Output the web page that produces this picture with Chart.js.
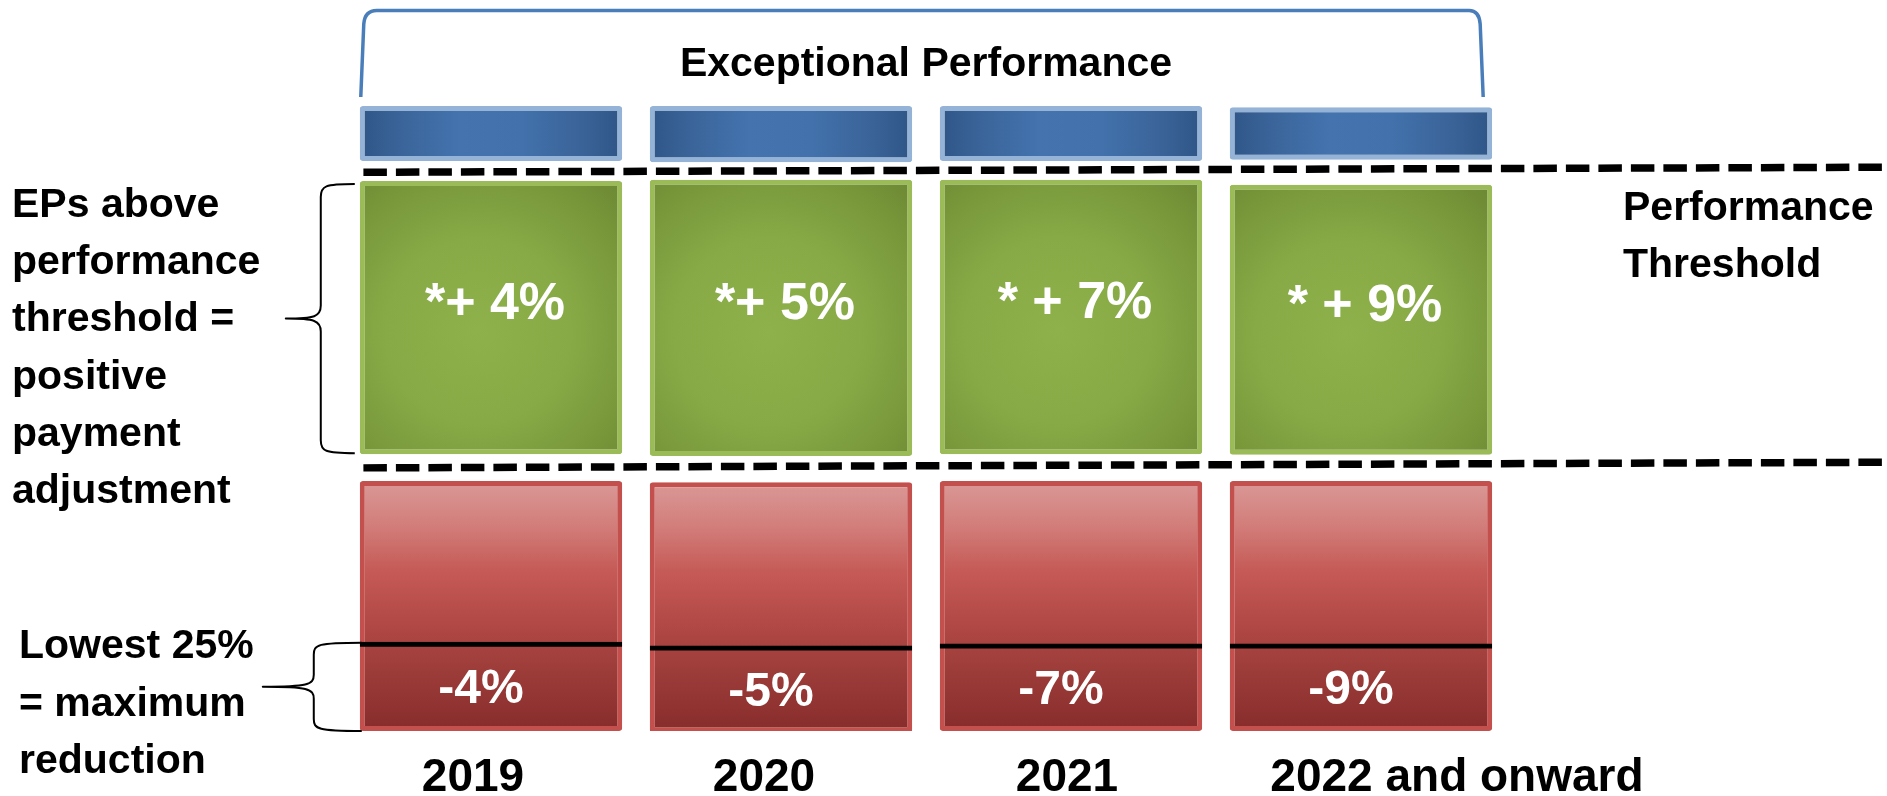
<!DOCTYPE html>
<html>
<head>
<meta charset="utf-8">
<script src="https://cdn.jsdelivr.net/npm/chart.js@4.4.1/dist/chart.umd.min.js"></script>
<style>
  html, body { margin: 0; padding: 0; background: #ffffff; }
  #wrap { width: 1887px; height: 796px; position: relative; }
</style>
</head>
<body>
<div id="wrap"><canvas id="c"></canvas></div>
<script>
// ---------------- data ----------------
const categories = ['2019', '2020', '2021', '2022 and onward'];
const categoryPositions = [0, 1, 2, 3];
const positiveLabels = ['*+ 4%', '*+ 5%', '* + 7%', '* + 9%'];
const reductionLabels = ['-4%', '-5%', '-7%', '-9%'];
// schematic vertical scale: 0 = bottom of the lowest box, 100 = top of the exceptional bar
const exceptionalLow  = [91.2, 91.0, 91.2, 91.4];
const exceptionalHigh = [100.0, 100.0, 100.0, 99.8];
const aboveLow  = [44.3, 44.0, 44.3, 44.2];
const aboveHigh = [88.0, 88.2, 88.2, 87.4];
const belowLow  = [0, -0.2, 0, 0];
const belowHigh = [40.0, 39.8, 40.0, 40.0];
const lowest25High = [14.3, 13.7, 14.0, 14.0];
// dashed threshold lines: level at left end and at right end
const exceptionalThreshold = [89.4, 90.2];
const performanceThreshold = [42.1, 43.0];
const lineExtent = [-0.44, 4.814];

// ---------------- helpers ----------------
const BAR_RATIO = 0.905;
const FONT = '"Liberation Sans", Arial, sans-serif';

function barGeom(chart, i) {
  const xs = chart.scales.x;
  const c = xs.getPixelForValue(categoryPositions[i]);
  const step = xs.getPixelForValue(1) - xs.getPixelForValue(0);
  const half = step * BAR_RATIO / 2;
  return { left: c - half, right: c + half, center: c };
}

function ready(ctx) {
  const ch = ctx.chart;
  return ctx.type === 'data' && ch.chartArea && ch.scales.x && ch.scales.y;
}

function blueFill(ctx) {
  if (!ready(ctx)) return '#4171AB';
  const g0 = barGeom(ctx.chart, ctx.dataIndex);
  const g = ctx.chart.ctx.createLinearGradient(g0.left, 0, g0.right, 0);
  g.addColorStop(0, '#2F5586');
  g.addColorStop(0.15, '#3A6499');
  g.addColorStop(0.38, '#4473AE');
  g.addColorStop(0.62, '#4271AB');
  g.addColorStop(0.85, '#3A6398');
  g.addColorStop(1, '#2F5586');
  return g;
}

function greenFill(ctx) {
  if (!ready(ctx)) return '#83A544';
  const ch = ctx.chart;
  const g0 = barGeom(ch, ctx.dataIndex);
  const ys = ch.scales.y;
  const top = ys.getPixelForValue(aboveHigh[ctx.dataIndex]);
  const bot = ys.getPixelForValue(aboveLow[ctx.dataIndex]);
  const cx = g0.left + (g0.right - g0.left) * 0.45;
  const cy = top + (bot - top) * 0.55;
  const r = (bot - top) * 0.75;
  const g = ch.ctx.createRadialGradient(cx, cy, 0, cx, cy, r);
  g.addColorStop(0, '#8EB14B');
  g.addColorStop(0.45, '#87AA46');
  g.addColorStop(0.8, '#779639');
  g.addColorStop(1, '#6C8834');
  return g;
}

function redFill(ctx) {
  if (!ready(ctx)) return '#C0504D';
  const ch = ctx.chart;
  const ys = ch.scales.y;
  const top = ys.getPixelForValue(belowHigh[ctx.dataIndex]);
  const bot = ys.getPixelForValue(belowLow[ctx.dataIndex]);
  const g = ch.ctx.createLinearGradient(0, top, 0, bot);
  g.addColorStop(0, '#DA9997');
  g.addColorStop(0.18, '#D27D7A');
  g.addColorStop(0.36, '#C55A56');
  g.addColorStop(0.55, '#B44A47');
  g.addColorStop(0.72, '#A03F3C');
  g.addColorStop(1, '#872C2B');
  return g;
}

function bars(lo, hi) {
  return categoryPositions.map((x, i) => ({ x: x, y: [lo[i], hi[i]] }));
}
function levelLine(levels) {
  return [{ x: lineExtent[0], y: levels[0] }, { x: lineExtent[1], y: levels[1] }];
}

// ---------------- annotation drawing ----------------
function drawText(ctx, str, x, y, size, align, color) {
  ctx.font = 'bold ' + size + 'px ' + FONT;
  ctx.textAlign = align;
  ctx.textBaseline = 'alphabetic';
  ctx.fillStyle = color;
  ctx.fillText(str, x, y);
}

function drawBrace(ctx, xEnd, xSpine, xTip, yTop, yBot, r) {
  const yMid = (yTop + yBot) / 2;
  ctx.beginPath();
  ctx.moveTo(xEnd, yTop);
  ctx.bezierCurveTo(xSpine + 4, yTop, xSpine, yTop + 2, xSpine, yTop + r);
  ctx.lineTo(xSpine, yMid - r);
  ctx.bezierCurveTo(xSpine, yMid - 2, xSpine - 6, yMid, xTip, yMid);
  ctx.bezierCurveTo(xSpine - 6, yMid, xSpine, yMid + 2, xSpine, yMid + r);
  ctx.lineTo(xSpine, yBot - r);
  ctx.bezierCurveTo(xSpine, yBot - 2, xSpine + 4, yBot, xEnd, yBot);
  ctx.stroke();
}

const annotations = {
  id: 'annotations',
  afterDraw(chart) {
    const ctx = chart.ctx;
    const ys = chart.scales.y;
    const n = categories.length;
    const first = barGeom(chart, 0);
    const last = barGeom(chart, n - 1);
    ctx.save();

    // bracket over the exceptional performance bars
    const bl = first.left + 1, br = last.right - 9;
    ctx.strokeStyle = '#4A7EBB';
    ctx.lineWidth = 3.5;
    ctx.lineJoin = 'round';
    ctx.beginPath();
    ctx.moveTo(bl, 97);
    ctx.lineTo(bl + 3, 24);
    ctx.quadraticCurveTo(bl + 4, 10.5, bl + 16, 10.5);
    ctx.lineTo(br - 14, 10.5);
    ctx.quadraticCurveTo(br - 4, 10.5, br - 3, 24);
    ctx.lineTo(br, 97);
    ctx.stroke();

    drawText(ctx, 'Exceptional Performance', (first.center + last.center) / 2, 76, 41, 'center', '#000');

    // braces on the left
    ctx.strokeStyle = '#000';
    ctx.lineWidth = 2;
    drawBrace(ctx, first.left - 5, first.left - 39, first.left - 74,
      ys.getPixelForValue(aboveHigh[0]) + 3, ys.getPixelForValue(aboveLow[0]) - 1, 13);
    drawBrace(ctx, first.left + 2, first.left - 46, first.left - 97,
      ys.getPixelForValue(lowest25High[0]) + 1, ys.getPixelForValue(belowLow[0]), 12);

    // left descriptions
    const leftTop = ['EPs above', 'performance', 'threshold =', 'positive', 'payment', 'adjustment'];
    leftTop.forEach((s, k) => drawText(ctx, s, 12, 217 + k * 57.2, 41, 'left', '#000'));
    const leftBottom = ['Lowest 25%', '= maximum', 'reduction'];
    leftBottom.forEach((s, k) => drawText(ctx, s, 19, 658 + k * 57.5, 41, 'left', '#000'));

    // threshold label on the right
    drawText(ctx, 'Performance', 1623, 220, 41, 'left', '#000');
    drawText(ctx, 'Threshold', 1623, 277, 41, 'left', '#000');

    // values inside the boxes
    for (let i = 0; i < n; i++) {
      const g = barGeom(chart, i);
      const gm = ys.getPixelForValue((aboveHigh[i] + aboveLow[i]) / 2);
      drawText(ctx, positiveLabels[i], g.center + 4, gm + 1, 52, 'center', '#FFFFFF');
      const rm = ys.getPixelForValue((lowest25High[i] + belowLow[i]) / 2);
      drawText(ctx, reductionLabels[i], g.center - 10, rm + 17, 48, 'center', '#FFFFFF');
    }

    // category labels
    const yearShift = [-18, -17, -4, 96];
    for (let i = 0; i < n; i++) {
      const g = barGeom(chart, i);
      drawText(ctx, categories[i], g.center + yearShift[i], 791, 46, 'center', '#000');
    }
    ctx.restore();
  }
};

// ---------------- chart ----------------
const barCommon = {
  type: 'bar',
  grouped: false,
  borderSkipped: false,
  barPercentage: BAR_RATIO,
  categoryPercentage: 1.0,
  borderRadius: 3
};

new Chart(document.getElementById('c'), {
  type: 'bar',
  data: {
    datasets: [
      Object.assign({}, barCommon, {
        label: 'Lowest 25% = maximum reduction',
        data: bars(belowLow, lowest25High),
        backgroundColor: 'rgba(0,0,0,0)',
        borderColor: '#000000',
        borderWidth: { top: 5, left: 0, right: 0, bottom: 0 },
        borderRadius: 0,
        order: 0
      }),
      Object.assign({}, barCommon, {
        label: 'Below performance threshold',
        data: bars(belowLow, belowHigh),
        backgroundColor: redFill,
        borderColor: '#C4504D',
        borderWidth: 5,
        order: 1
      }),
      Object.assign({}, barCommon, {
        label: 'EPs above performance threshold',
        data: bars(aboveLow, aboveHigh),
        backgroundColor: greenFill,
        borderColor: '#9BBB59',
        borderWidth: 5,
        order: 1
      }),
      Object.assign({}, barCommon, {
        label: 'Exceptional Performance',
        data: bars(exceptionalLow, exceptionalHigh),
        backgroundColor: blueFill,
        borderColor: '#95B3D7',
        borderWidth: 5,
        order: 1
      }),
      {
        type: 'line',
        label: 'Exceptional performance threshold',
        data: levelLine(exceptionalThreshold),
        borderColor: '#000000',
        borderWidth: 7.5,
        borderDash: [23.5, 9],
        borderCapStyle: 'butt',
        pointRadius: 0,
        fill: false,
        order: 2
      },
      {
        type: 'line',
        label: 'Performance threshold',
        data: levelLine(performanceThreshold),
        borderColor: '#000000',
        borderWidth: 7.5,
        borderDash: [23.5, 9],
        borderCapStyle: 'butt',
        pointRadius: 0,
        fill: false,
        order: 2
      }
    ]
  },
  options: {
    responsive: true,
    maintainAspectRatio: false,
    animation: false,
    events: [],
    layout: { padding: { left: 346, right: 0, top: 106, bottom: 65 } },
    scales: {
      x: {
        type: 'linear',
        min: -0.5,
        max: 4.814,
        offset: false,
        display: false,
        ticks: { stepSize: 1, includeBounds: false },
        grid: { display: false, offset: false }
      },
      y: {
        type: 'linear',
        min: 0,
        max: 100,
        display: false,
        grid: { display: false }
      }
    },
    plugins: {
      legend: { display: false },
      tooltip: { enabled: false }
    }
  },
  plugins: [annotations]
});
</script>
</body>
</html>
